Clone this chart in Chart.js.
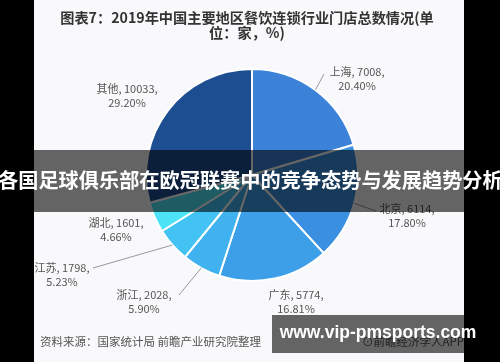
<!DOCTYPE html>
<html>
<head>
<meta charset="utf-8">
<script src="https://cdn.jsdelivr.net/npm/chart.js@4"></script>
<style>
  html, body { margin: 0; padding: 0; background: #000; }
  #wrap { position: relative; width: 500px; height: 362px; overflow: hidden; background: #000; }
  #paper { position: absolute; left: 34px; top: 0; width: 430px; height: 362px; background: #f9f9fb; }
  #chart { position: absolute; left: 0; top: 0; }
  .title { position: absolute; left: 34px; width: 426px; text-align: center; font: bold 14.2px "Noto Sans CJK SC", sans-serif; color: #333; line-height: 15px; }
  #source { position: absolute; left: 40px; top: 333px; font: 11.5px "Noto Sans CJK SC", sans-serif; color: #555; }
  #app { position: absolute; left: 362px; top: 333px; font: 11.5px "Noto Sans CJK SC", sans-serif; color: #555; }
  #banner { position: absolute; left: 0; top: 150px; width: 500px; height: 62px; background: rgba(0,0,0,0.6); }
  #bannerText { position: absolute; left: -2px; top: 168px; width: 504px; text-align: center; white-space: nowrap; font: bold 20.2px "Noto Sans CJK SC", sans-serif; color: #fff; line-height: 24px; }
  #mark { position: absolute; left: 272px; top: 315px; width: 218px; height: 38px; background: rgba(0,0,0,0.6); }
  #markText { position: absolute; left: 272px; top: 322px; width: 212px; text-align: center; font: bold 17.5px "Liberation Sans", sans-serif; color: #fff; }
</style>
</head>
<body>
<div id="wrap">
  <div id="paper"></div>
  <canvas id="chart" width="500" height="362"></canvas>
  <div class="title" style="top:10px">图表7：2019年中国主要地区餐饮连锁行业门店总数情况(单</div>
  <div class="title" style="top:25px">位：家，%)</div>
  <div id="source">资料来源：国家统计局 前瞻产业研究院整理</div>
  <div id="app">⊙前瞻经济学人APP</div>
  <div id="banner"></div>
  <div id="bannerText">各国足球俱乐部在欧冠联赛中的竞争态势与发展趋势分析</div>
  <div id="mark"></div>
  <div id="markText">www.vip-pmsports.com</div>
</div>
<script>
'use strict';

var regions = ['上海', '北京', '广东', '浙江', '江苏', '湖北', '其他'];
var storeCounts = [7008, 6114, 5774, 2028, 1798, 1601, 10033];
var shares = ['20.40%', '17.80%', '16.81%', '5.90%', '5.23%', '4.66%', '29.20%'];

var sliceColors = ['#3b82d8', '#3b8fe0', '#3c9fe8', '#3fb2ef', '#43c3f4', '#4de3f7', '#1d4e92'];

// where each label sits (centre of the text block) and where its leader line ends
var labelSpots = [
  { x: 357, y: 72, lead: [324, 74] },
  { x: 407, y: 209, lead: [376, 211] },
  { x: 296, y: 295, lead: null },
  { x: 144, y: 295, lead: [179, 295] },
  { x: 62, y: 268, lead: [93, 268] },
  { x: 116, y: 223, lead: null },
  { x: 127, y: 89, lead: null }
];

var pieLabels = {
  id: 'pieLabels',
  afterDatasetsDraw: function(chart) {
    var ctx = chart.ctx;
    var arcs = chart.getDatasetMeta(0).data;
    ctx.save();
    ctx.font = '11px "Noto Sans CJK SC", sans-serif';
    ctx.fillStyle = '#555';
    ctx.textAlign = 'center';
    ctx.textBaseline = 'middle';
    arcs.forEach(function(arc, i) {
      var spot = labelSpots[i];
      if (spot.lead) {
        var mid = (arc.startAngle + arc.endAngle) / 2;
        var ex = arc.x + Math.cos(mid) * arc.outerRadius;
        var ey = arc.y + Math.sin(mid) * arc.outerRadius;
        ctx.strokeStyle = '#999';
        ctx.lineWidth = 1;
        ctx.beginPath();
        ctx.moveTo(ex, ey);
        ctx.lineTo(spot.lead[0], spot.lead[1]);
        ctx.stroke();
      }
      ctx.fillText(regions[i] + ', ' + storeCounts[i] + ',', spot.x, spot.y);
      ctx.fillText(shares[i], spot.x, spot.y + 14);
    });
    ctx.restore();
  }
};

var chart = new Chart(document.getElementById('chart'), {
  type: 'pie',
  data: {
    labels: regions,
    datasets: [{
      data: storeCounts,
      backgroundColor: sliceColors,
      borderColor: '#ffffff',
      borderWidth: 2
    }]
  },
  options: {
    responsive: false,
    animation: false,
    layout: { padding: { left: 145, right: 141, top: 68, bottom: 80 } },
    plugins: {
      legend: { display: false },
      tooltip: { enabled: false }
    }
  },
  plugins: [pieLabels]
});
</script>
</body>
</html>
